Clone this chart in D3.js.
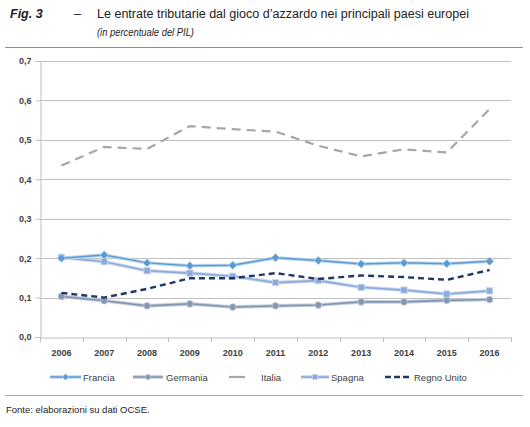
<!DOCTYPE html>
<html><head><meta charset="utf-8">
<script src="https://cdn.jsdelivr.net/npm/d3@7/dist/d3.min.js"></script>
<style>body{margin:0;background:#fff}svg{display:block;font-family:"Liberation Sans",Arial,sans-serif}</style>
</head><body><svg id="c" width="530" height="427"></svg>
<script>
const years = ["2006","2007","2008","2009","2010","2011","2012","2013","2014","2015","2016"];
const francia  = [0.200,0.208,0.188,0.181,0.182,0.201,0.194,0.185,0.188,0.186,0.192];
const germania = [0.103,0.092,0.079,0.084,0.076,0.079,0.081,0.089,0.089,0.093,0.095];
const italia   = [0.435,0.482,0.477,0.535,0.527,0.521,0.485,0.458,0.476,0.468,0.578];
const spagna   = [0.202,0.191,0.168,0.162,0.154,0.138,0.143,0.126,0.119,0.109,0.117];
const regnoUnito = [0.112,0.100,0.122,0.149,0.149,0.162,0.147,0.156,0.152,0.145,0.170];
const yTicks = [0,0.1,0.2,0.3,0.4,0.5,0.6,0.7];
const yTickLabels = ["0,0","0,1","0,2","0,3","0,4","0,5","0,6","0,7"];

const series = [
  {name:"Francia", values:francia, color:"#5b9bd5", halo:"#bdd7ee", dash:null, marker:"diamond", w:1.5},
  {name:"Germania", values:germania, color:"#8497b0", halo:"#c3cddb", dash:null, marker:"circle", w:1.6},
  {name:"Italia", values:italia, color:"#a6a6a6", halo:null, dash:"9,6", marker:null, w:2.2},
  {name:"Spagna", values:spagna, color:"#8eaadb", halo:"#c9d7ef", dash:null, marker:"square", w:1.6},
  {name:"Regno Unito", values:regnoUnito, color:"#1f3864", halo:null, dash:"6,4", marker:null, w:2.4}
];

const svg = d3.select("#c");
const pLeft=40, pRight=511, pTop=61, pBottom=337;
const x = d3.scaleBand().domain(years).range([pLeft,pRight]);
const y = d3.scaleLinear().domain([0,0.7]).range([pBottom,pTop]);

// Title
svg.append("text").attr("x",10).attr("y",18).attr("font-size",12.5).attr("fill","#222")
  .attr("font-weight","bold").attr("font-style","italic").text("Fig. 3");
svg.append("text").attr("x",74).attr("y",18).attr("font-size",12.5).attr("fill","#222").text("–");
svg.append("text").attr("x",97).attr("y",18).attr("font-size",12.5).attr("fill","#222")
  .attr("textLength",372).attr("lengthAdjust","spacingAndGlyphs")
  .text("Le entrate tributarie dal gioco d’azzardo nei principali paesi europei");
svg.append("text").attr("x",97).attr("y",36).attr("font-size",10).attr("font-style","italic").attr("fill","#222")
  .attr("textLength",97).attr("lengthAdjust","spacingAndGlyphs")
  .text("(in percentuale del PIL)");
svg.append("line").attr("x1",5).attr("x2",523).attr("y1",47.5).attr("y2",47.5).attr("stroke","#8c8c8c").attr("stroke-width",1);

// Grid
svg.append("g").selectAll("line").data(yTicks.slice(1)).join("line")
  .attr("x1",pLeft).attr("x2",pRight).attr("y1",d=>Math.round(y(d))+0.5).attr("y2",d=>Math.round(y(d))+0.5)
  .attr("stroke","#bfbfbf").attr("stroke-width",1);

// Y axis
const yAxis = d3.axisLeft(y).tickValues(yTicks).tickSize(5).tickFormat((d,i)=>yTickLabels[i]);
const gy = svg.append("g").attr("transform",`translate(${pLeft+0.5},0)`).call(yAxis);
gy.select(".domain").attr("stroke","#bfbfbf");
gy.selectAll(".tick line").attr("stroke","#bfbfbf");
gy.selectAll(".tick text").attr("font-size",9).attr("font-weight","bold").attr("fill","#404040").attr("x",-9);

// X axis
const gx = svg.append("g").attr("transform",`translate(0,${pBottom+0.5})`).call(d3.axisBottom(x).tickSize(0).tickPadding(12));
gx.select(".domain").attr("stroke","#bfbfbf");
gx.selectAll(".tick text").attr("font-size",9).attr("font-weight","bold").attr("fill","#404040");
const bounds = years.map(d=>x(d)).concat([pRight]);
svg.append("g").selectAll("line").data(bounds).join("line")
  .attr("x1",d=>Math.round(d)+0.5).attr("x2",d=>Math.round(d)+0.5).attr("y1",pBottom).attr("y2",pBottom+5)
  .attr("stroke","#bfbfbf");

const cx = d=>x(d)+x.bandwidth()/2;
const line = d3.line().x((d,i)=>cx(years[i])).y(d=>y(d));

function marker(g, type, color, halo, r){
  if(type==="diamond"){
    g.append("path").attr("d",`M0,${-r}L${r},0L0,${r}L${-r},0Z`).attr("fill",color).attr("stroke",halo).attr("stroke-width",0.8);
  } else if(type==="circle"){
    g.append("circle").attr("r",r*0.8).attr("fill",color).attr("stroke",halo).attr("stroke-width",0.8);
  } else if(type==="square"){
    const s=r*1.5;
    g.append("rect").attr("x",-s/2).attr("y",-s/2).attr("width",s).attr("height",s).attr("fill",color).attr("stroke",halo).attr("stroke-width",0.8);
  }
}

const order = ["Italia","Germania","Spagna","Regno Unito","Francia"];
order.forEach(n=>{
  const s = series.find(q=>q.name===n);
  const g = svg.append("g");
  if(s.halo){
    g.append("path").datum(s.values).attr("d",line).attr("fill","none").attr("stroke",s.halo).attr("stroke-width",s.w+2);
  }
  const p = g.append("path").datum(s.values).attr("d",line).attr("fill","none").attr("stroke",s.color).attr("stroke-width",s.w);
  if(s.dash) p.attr("stroke-dasharray",s.dash);
  if(s.marker){
    s.values.forEach((v,i)=>{
      const mg = g.append("g").attr("transform",`translate(${cx(years[i])},${y(v)})`);
      marker(mg, s.marker, s.color, s.halo, 4.2);
    });
  }
});

// Legend
const legendPos = [
  {name:"Francia", x1:50, x2:81, tx:83},
  {name:"Germania", x1:133, x2:163, tx:166},
  {name:"Italia", x1:229, x2:245, tx:261},
  {name:"Spagna", x1:301, x2:329, tx:331},
  {name:"Regno Unito", x1:385, x2:411, tx:414}
];
const ly = 377;
legendPos.forEach(lp=>{
  const s = series.find(q=>q.name===lp.name);
  const g = svg.append("g");
  if(s.halo) g.append("line").attr("x1",lp.x1).attr("x2",lp.x2).attr("y1",ly).attr("y2",ly).attr("stroke",s.halo).attr("stroke-width",s.w+2);
  const l = g.append("line").attr("x1",lp.x1).attr("x2",lp.x2).attr("y1",ly).attr("y2",ly).attr("stroke",s.color).attr("stroke-width",s.w);
  if(s.name==="Regno Unito") l.attr("stroke-dasharray","6,3");
  if(s.marker){
    const mg = g.append("g").attr("transform",`translate(${(lp.x1+lp.x2)/2},${ly})`);
    marker(mg, s.marker, s.color, s.halo, 3.3);
  }
  g.append("text").attr("x",lp.tx).attr("y",ly+3.5).attr("font-size",9.5).attr("fill","#404040").text(s.name);
});

svg.append("line").attr("x1",5).attr("x2",523).attr("y1",395.5).attr("y2",395.5).attr("stroke","#a6a6a6").attr("stroke-width",1.2);
svg.append("text").attr("x",6).attr("y",413).attr("font-size",9.5).attr("fill","#222").text("Fonte: elaborazioni su dati OCSE.");
</script></body></html>
